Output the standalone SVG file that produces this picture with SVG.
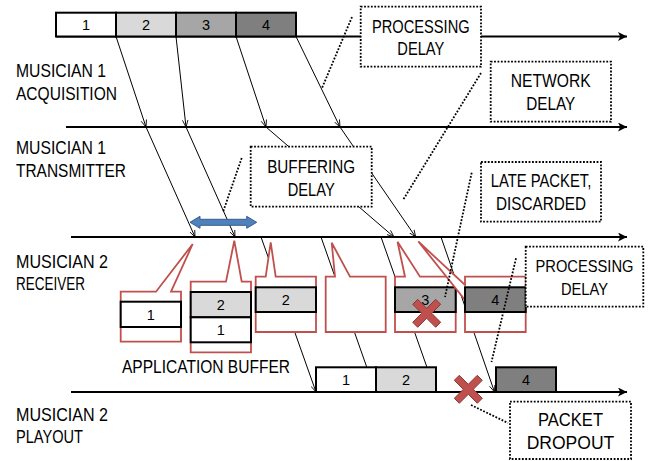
<svg xmlns="http://www.w3.org/2000/svg" width="651" height="461" viewBox="0 0 651 461">
<style>
text{font-family:"Liberation Sans",Arial,sans-serif;fill:#000}
.lbl{font-size:18.5px}
.sml{font-size:16.5px}
.num{font-size:14.5px;text-anchor:middle}
.mid{text-anchor:middle}
.tl{stroke:#000;stroke-width:2;fill:none}
.th{stroke:#000;stroke-width:1;fill:none}
.dot{stroke:#000;stroke-width:1.8;stroke-dasharray:1.8 1.6;fill:none}
.dbox{stroke:#000;stroke-width:1.8;stroke-dasharray:1.8 1.6;fill:#fff}
.pk{stroke:#000;stroke-width:2}
.co{stroke:#c0504d;stroke-width:1.8;fill:#fff}
</style>
<defs>
<marker id="big" viewBox="0 0 10 10" refX="10" refY="5" markerWidth="9" markerHeight="9" markerUnits="userSpaceOnUse" orient="auto"><path d="M0,0 L10,5 L0,10 L2.5,5 Z" fill="#000"/></marker>
<marker id="sm" viewBox="0 0 10 10" refX="10" refY="5" markerWidth="7" markerHeight="7" markerUnits="userSpaceOnUse" orient="auto"><path d="M0,1 L10,5 L0,9" fill="none" stroke="#000" stroke-width="1.2"/></marker>
<path id="xm" d="M-14,-9 L-9,-14 L0,-5 L9,-14 L14,-9 L5,0 L14,9 L9,14 L0,5 L-9,14 L-14,9 L-5,0 Z" fill="#c0504d" stroke="#8c3836" stroke-width="1"/>
</defs>

<g id="timelines">
<line class="tl" x1="56" y1="36.5" x2="627" y2="36.5" marker-end="url(#big)"/>
<line class="tl" x1="66" y1="127" x2="627" y2="127" marker-end="url(#big)"/>
<line class="tl" x1="71" y1="237" x2="627" y2="237" marker-end="url(#big)"/>
<line class="tl" x1="71" y1="392" x2="627" y2="392" marker-end="url(#big)"/>
</g>

<g id="connectors">
<line class="th" x1="116" y1="36.5" x2="146" y2="127" marker-end="url(#sm)"/>
<line class="th" x1="176" y1="36.5" x2="186" y2="127" marker-end="url(#sm)"/>
<line class="th" x1="236" y1="36.5" x2="266" y2="127" marker-end="url(#sm)"/>
<line class="th" x1="296" y1="36.5" x2="340" y2="127" marker-end="url(#sm)"/>
<line class="th" x1="146" y1="127" x2="195" y2="237" marker-end="url(#sm)"/>
<line class="th" x1="186" y1="127" x2="235" y2="237" marker-end="url(#sm)"/>
<line class="th" x1="266" y1="127" x2="394" y2="237" marker-end="url(#sm)"/>
<line class="th" x1="340" y1="127" x2="415.7" y2="237" marker-end="url(#sm)"/>
<line class="th" x1="261" y1="237" x2="316" y2="392" marker-end="url(#sm)"/>
<line class="th" x1="321" y1="237" x2="375.5" y2="392" marker-end="url(#sm)"/>
<line class="th" x1="381" y1="237" x2="435.7" y2="392" marker-end="url(#sm)"/>
<line class="th" x1="441" y1="237" x2="494.5" y2="392" marker-end="url(#sm)"/>
</g>

<g id="acq-packets">
<rect class="pk" x="56" y="12.7" width="60" height="23.8" fill="#fff"/>
<rect class="pk" x="116" y="12.7" width="60" height="23.8" fill="#d9d9d9"/>
<rect class="pk" x="176" y="12.7" width="60" height="23.8" fill="#a6a6a6"/>
<rect class="pk" x="236" y="12.7" width="60" height="23.8" fill="#7f7f7f"/>
<text class="num" x="86" y="29.8">1</text>
<text class="num" x="146" y="29.8">2</text>
<text class="num" x="206" y="29.8">3</text>
<text class="num" x="266" y="29.8">4</text>
</g>

<g id="playout-packets">
<rect class="pk" x="316" y="367.3" width="60" height="24.7" fill="#fff"/>
<rect class="pk" x="376" y="367.3" width="60" height="24.7" fill="#d9d9d9"/>
<rect class="pk" x="496" y="367.3" width="60" height="24.7" fill="#7f7f7f"/>
<text class="num" x="346" y="385">1</text>
<text class="num" x="406" y="385">2</text>
<text class="num" x="526" y="385">4</text>
<use href="#xm" x="468.3" y="389.3"/>
</g>

<g id="labels">
<text class="lbl" x="16" y="77" textLength="90" lengthAdjust="spacingAndGlyphs">MUSICIAN 1</text>
<text class="lbl" x="16" y="99.5" textLength="101" lengthAdjust="spacingAndGlyphs">ACQUISITION</text>
<text class="lbl" x="16" y="154" textLength="90" lengthAdjust="spacingAndGlyphs">MUSICIAN 1</text>
<text class="lbl" x="16" y="176.5" textLength="110" lengthAdjust="spacingAndGlyphs">TRANSMITTER</text>
<text class="lbl" x="16" y="268" textLength="92" lengthAdjust="spacingAndGlyphs">MUSICIAN 2</text>
<text class="lbl" x="16" y="289.5" textLength="69" lengthAdjust="spacingAndGlyphs">RECEIVER</text>
<text class="lbl" x="16" y="421" textLength="92" lengthAdjust="spacingAndGlyphs">MUSICIAN 2</text>
<text class="lbl" x="16" y="442.5" textLength="67" lengthAdjust="spacingAndGlyphs">PLAYOUT</text>
<text class="lbl" x="122" y="373.3" textLength="168" lengthAdjust="spacingAndGlyphs">APPLICATION BUFFER</text>
</g>

<g id="callout1">
<path class="co" d="M120.7,291.7 L156,291.7 L192.7,244 L171,291.7 L181,291.7 L181,341.7 L120.7,341.7 Z"/>
<rect class="pk" x="120.7" y="301.7" width="60.3" height="25.3" fill="#fff"/>
<text class="num" x="150.8" y="319.8">1</text>
</g>
<g id="callout2">
<path class="co" d="M190.7,281.7 L226,281.7 L234.3,240.7 L241.7,281.7 L251,281.7 L251,352.3 L190.7,352.3 Z"/>
<rect class="pk" x="190.7" y="292" width="60.3" height="25.3" fill="#d9d9d9"/>
<rect class="pk" x="190.7" y="317.3" width="60.3" height="25" fill="#fff"/>
<text class="num" x="220.8" y="310">2</text>
<text class="num" x="220.8" y="335">1</text>
</g>
<g id="callout3">
<path class="co" d="M255.7,276.7 L265.7,276.7 L270.7,242.3 L275.7,276.7 L316,276.7 L316,332 L255.7,332 Z"/>
<rect class="pk" x="255.7" y="287.3" width="60.3" height="24.7" fill="#d9d9d9"/>
<text class="num" x="285.8" y="304.8">2</text>
</g>
<g id="callout4">
<path class="co" d="M325.7,276.7 L335,276.7 L331.7,242.7 L350,276.7 L385.7,276.7 L385.7,332 L325.7,332 Z"/>
</g>
<g id="callout5">
<path class="co" d="M395,276.7 L405,276.7 L397.5,241.7 L420,276.7 L455.7,276.7 L455.7,332 L395,332 Z"/>
<rect class="pk" x="395" y="287.3" width="60.7" height="24.7" fill="#a6a6a6"/>
<text class="num" x="425.3" y="304.8">3</text>
<use href="#xm" x="426.7" y="313.3"/>
</g>
<g id="callout6">
<path class="co" d="M465,276.7 L525.7,276.7 L525.7,332 L465,332 L465,300 L418.3,241.5 L465,285 Z"/>
<rect class="pk" x="465" y="287.3" width="60.7" height="24.7" fill="#7f7f7f"/>
<text class="num" x="495.3" y="304.8">4</text>
</g>

<g id="buffering-span">
<path d="M190,222.3 L200,216.3 L200,219.3 L246.7,219.3 L246.7,216.3 L256.7,222.3 L246.7,228.3 L246.7,225.3 L200,225.3 L200,228.3 Z" fill="#4f81bd" stroke="#385d8a" stroke-width="1"/>
</g>

<g id="note-processing1">
<rect class="dbox" x="360.7" y="6.7" width="120.3" height="60"/>
<text class="lbl mid" x="420.8" y="32.5" textLength="97.7" lengthAdjust="spacingAndGlyphs">PROCESSING</text>
<text class="lbl mid" x="420.8" y="55" textLength="47" lengthAdjust="spacingAndGlyphs">DELAY</text>
</g>
<g id="note-network">
<rect class="dbox" x="490.7" y="61.7" width="120.3" height="60"/>
<text class="lbl mid" x="550.8" y="87.3" textLength="80" lengthAdjust="spacingAndGlyphs">NETWORK</text>
<text class="lbl mid" x="550.8" y="110" textLength="49" lengthAdjust="spacingAndGlyphs">DELAY</text>
</g>
<g id="note-buffering">
<rect class="dbox" x="250.7" y="146.7" width="121" height="60"/>
<text class="lbl mid" x="311.2" y="172.5" textLength="88" lengthAdjust="spacingAndGlyphs">BUFFERING</text>
<text class="lbl mid" x="311.2" y="195.5" textLength="47" lengthAdjust="spacingAndGlyphs">DELAY</text>
</g>
<g id="note-late">
<rect class="dbox" x="481" y="162" width="120" height="59.7"/>
<text class="lbl mid" x="541" y="187.3" textLength="100.7" lengthAdjust="spacingAndGlyphs">LATE PACKET,</text>
<text class="lbl mid" x="541" y="210" textLength="90" lengthAdjust="spacingAndGlyphs">DISCARDED</text>
</g>
<g id="note-processing2">
<rect class="dbox" x="525.7" y="246.7" width="117.6" height="60"/>
<text class="sml mid" x="584.5" y="272.3" textLength="98" lengthAdjust="spacingAndGlyphs">PROCESSING</text>
<text class="sml mid" x="584.5" y="295" textLength="47" lengthAdjust="spacingAndGlyphs">DELAY</text>
</g>
<g id="note-dropout">
<rect class="dbox" x="510" y="401.7" width="121" height="57.3"/>
<text class="lbl mid" x="570.5" y="426" textLength="65" lengthAdjust="spacingAndGlyphs">PACKET</text>
<text class="lbl mid" x="570.5" y="449.3" textLength="87.6" lengthAdjust="spacingAndGlyphs">DROPOUT</text>
</g>

<g id="leaders">
<line class="dot" x1="352" y1="17" x2="322" y2="88"/>
<line class="dot" x1="481" y1="73" x2="403" y2="200"/>
<line class="dot" x1="241.7" y1="158" x2="223" y2="212"/>
<line class="dot" x1="471.7" y1="172.7" x2="445" y2="297"/>
<line class="dot" x1="516" y1="258.3" x2="491.5" y2="362"/>
<line class="dot" x1="471" y1="405" x2="508" y2="423"/>
</g>
</svg>
